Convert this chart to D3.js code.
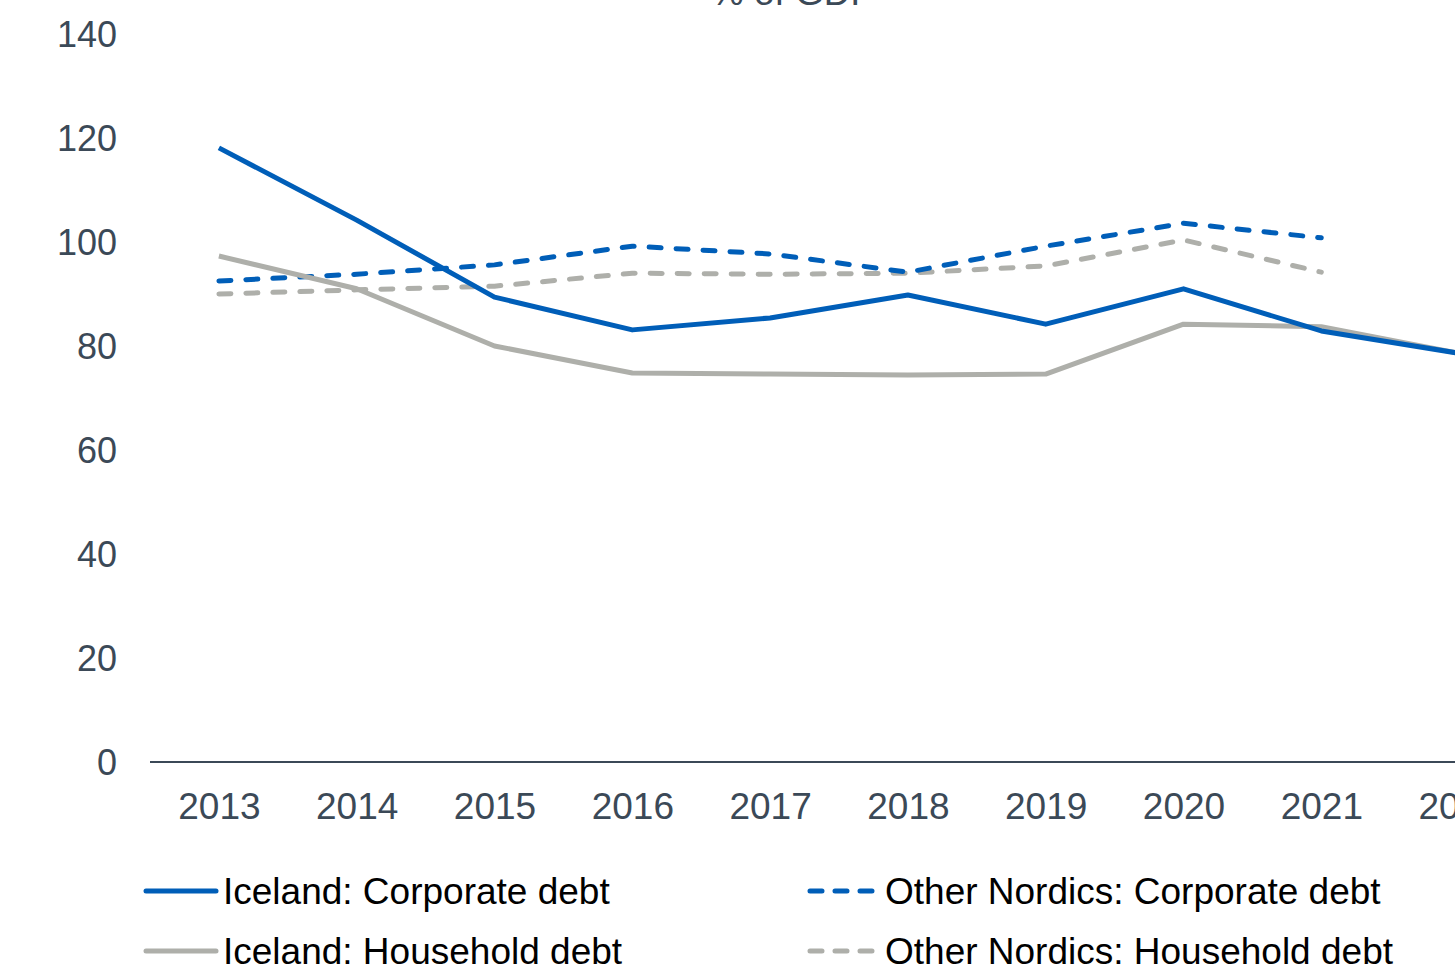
<!DOCTYPE html>
<html>
<head>
<meta charset="utf-8">
<script src="https://cdn.jsdelivr.net/npm/d3@7"></script>
<style>
  body { margin: 0; background: #fff; overflow: hidden; }
  text { font-family: "Liberation Sans", Arial, sans-serif; }
</style>
</head>
<body>
<div id="chart-container"></div>
<script>
// data (% of GDP)
const years = [2013, 2014, 2015, 2016, 2017, 2018, 2019, 2020, 2021, 2022];
const icelandCorporate = [118.1, 104.2, 89.4, 83.1, 85.4, 89.8, 84.2, 91.0, 82.9, 78.6];
const icelandHousehold = [97.3, 91.0, 80.0, 74.8, 74.6, 74.4, 74.6, 84.2, 83.7, 78.6];
const nordicsCorporate = [92.5, 93.8, 95.6, 99.2, 97.7, 94.2, 99.2, 103.6, 100.8, null];
const nordicsHousehold = [90.0, 90.8, 91.5, 94.0, 93.8, 94.0, 95.4, 100.4, 94.2, null];
const yTicks = [0, 20, 40, 60, 80, 100, 120, 140];
const seriesNames = [
  "Iceland: Corporate debt",
  "Other Nordics: Corporate debt",
  "Iceland: Household debt",
  "Other Nordics: Household debt",
];

const blue = "#005EB8";
const grey = "#AEAFAA";
const textColor = "#3B4957";

const series = [
  { name: seriesNames[0], values: icelandCorporate, color: blue, dash: null },
  { name: seriesNames[1], values: nordicsCorporate, color: blue, dash: "12,15" },
  { name: seriesNames[2], values: icelandHousehold, color: grey, dash: null },
  { name: seriesNames[3], values: nordicsHousehold, color: grey, dash: "12,15" },
];

function drawChart() {
  const W = 1455, H = 978;
  const margin = { top: 34, left: 150, bottom: 216 };
  const height = H - margin.top - margin.bottom;
  const step = 137.8;

  const svg = d3
    .select("#chart-container")
    .append("svg")
    .attr("width", W)
    .attr("height", H);

  const x = d3
    .scalePoint()
    .domain(years)
    .range([margin.left + step / 2, margin.left + step / 2 + step * (years.length - 1)]);
  const y = d3.scaleLinear().domain([0, 140]).range([margin.top + height, margin.top]);

  // title (mostly cut off at top)
  svg
    .append("text")
    .attr("x", 793)
    .attr("y", 5)
    .attr("text-anchor", "middle")
    .style("font-size", "37px")
    .style("fill", textColor)
    .text("% of GDP");

  // y axis labels
  const yAxis = svg
    .append("g")
    .attr("transform", `translate(${margin.left - 33}, 0)`)
    .call(d3.axisLeft(y).tickValues(yTicks).tickSize(0).tickPadding(0));
  yAxis.select(".domain").remove();
  yAxis
    .selectAll(".tick text")
    .attr("dy", "0.35em")
    .style("font-size", "36px")
    .style("font-family", '"Liberation Sans", Arial, sans-serif')
    .style("fill", textColor);

  // x axis
  const xAxis = svg
    .append("g")
    .attr("transform", `translate(0, ${y(0)})`)
    .call(d3.axisBottom(x).tickSize(0).tickPadding(0));
  xAxis.select(".domain").remove();
  xAxis
    .selectAll(".tick text")
    .attr("y", 44)
    .attr("dy", "0.35em")
    .style("font-size", "37px")
    .style("font-family", '"Liberation Sans", Arial, sans-serif')
    .style("fill", textColor);

  svg
    .append("line")
    .attr("x1", margin.left)
    .attr("x2", W)
    .attr("y1", y(0))
    .attr("y2", y(0))
    .attr("stroke", textColor)
    .attr("stroke-width", 2);

  // lines (draw nordics first so Iceland sits on top)
  const line = d3
    .line()
    .defined((d) => d[1] != null)
    .x((d) => x(d[0]))
    .y((d) => y(d[1]));

  const drawOrder = [series[3], series[1], series[2], series[0]];
  drawOrder.forEach((s) => {
    svg
      .append("path")
      .datum(years.map((yr, i) => [yr, s.values[i]]))
      .attr("fill", "none")
      .attr("stroke", s.color)
      .attr("stroke-width", 5)
      .attr("stroke-linejoin", "round")
      .attr("stroke-linecap", s.dash ? "round" : "butt")
      .attr("stroke-dasharray", s.dash)
      .attr("d", line);
  });

  // legend
  const legendX = [146, 808];
  const legendY = [891, 951];
  series.forEach((s, i) => {
    const lx = legendX[i % 2];
    const ly = legendY[Math.floor(i / 2)];
    const g = svg.append("g").attr("transform", `translate(${lx}, ${ly})`);
    g.append("line")
      .attr("x1", s.dash ? 2 : 0)
      .attr("x2", 70)
      .attr("stroke", s.color)
      .attr("stroke-width", 5)
      .attr("stroke-linecap", "round")
      .attr("stroke-dasharray", s.dash ? "12,13" : null);
    g.append("text")
      .attr("x", 77)
      .attr("dy", "0.35em")
      .style("font-size", "37px")
      .style("fill", "#000")
      .text(s.name);
  });
}

drawChart();
</script>
</body>
</html>
